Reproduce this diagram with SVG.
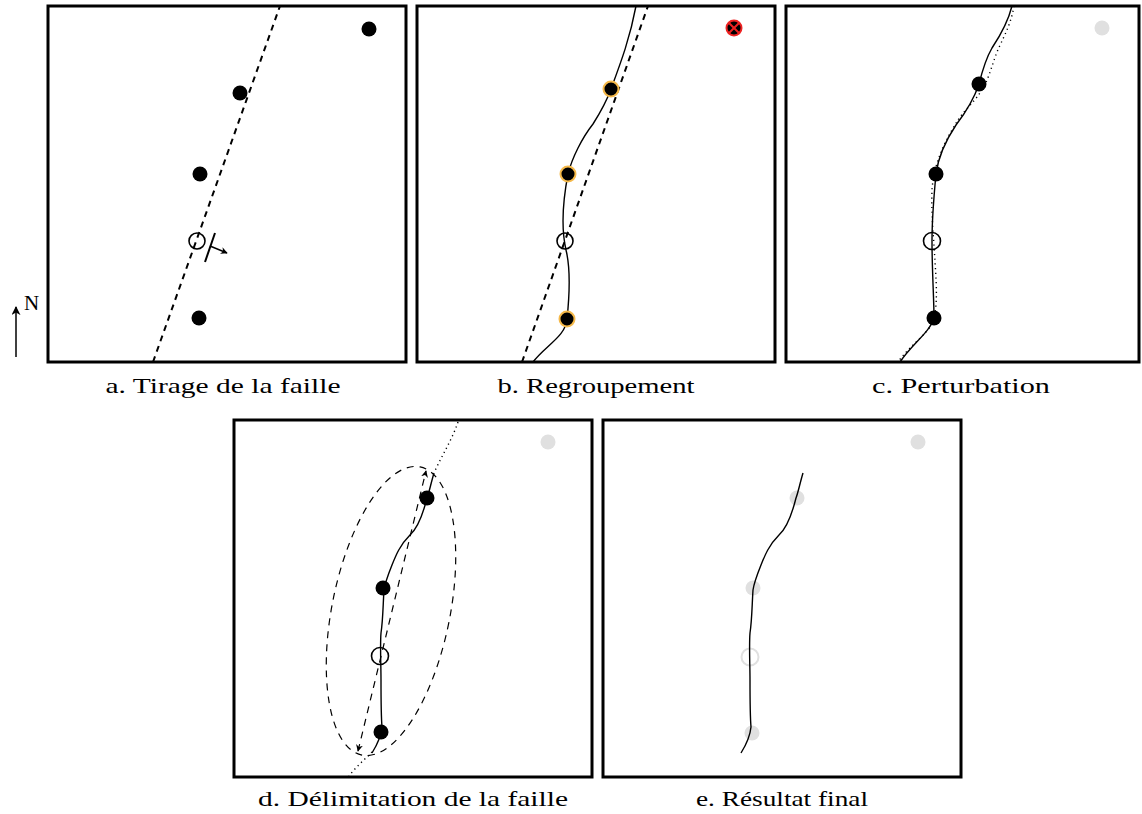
<svg xmlns="http://www.w3.org/2000/svg" width="1142" height="814" viewBox="0 0 1142 814">
<style>
.frame{fill:none;stroke:#000;stroke-width:3}
.dot{fill:#000}
.dash{fill:none;stroke:#000;stroke-width:2;stroke-dasharray:6,5}
.fault{fill:none;stroke:#000;stroke-width:1.4}
.dotted{fill:none;stroke:#000;stroke-width:1.4;stroke-dasharray:1.2,3.5}
.ell{fill:none;stroke:#000;stroke-width:1.2;stroke-dasharray:7,6}
.orange{fill:#000;stroke:#f5b94a;stroke-width:2}
.lbl{font-family:"Liberation Serif","DejaVu Serif",serif;font-size:22px;fill:#000;text-anchor:middle}
</style>
<defs>
<marker id="ah" viewBox="0 0 10 10" refX="9" refY="5" markerWidth="7" markerHeight="7" orient="auto-start-reverse" markerUnits="userSpaceOnUse">
<path d="M0,0 L10,5 L0,10 L3,5 Z" fill="#000"/>
</marker>
<marker id="ah2" viewBox="0 0 10 10" refX="9" refY="5" markerWidth="9" markerHeight="9" orient="auto-start-reverse" markerUnits="userSpaceOnUse">
<path d="M0,0 L10,5 L0,10 L3,5 Z" fill="#000"/>
</marker>
</defs>

<g id="north">
<line x1="16" y1="357" x2="16" y2="307" stroke="#000" stroke-width="1.5" marker-end="url(#ah2)"/>
<text x="24" y="310" font-family="Liberation Serif, serif" font-size="21">N</text>
</g>

<g id="panel-a">
<rect class="frame" x="48" y="6" width="358" height="356"/>
<line class="dash" x1="153" y1="362" x2="280" y2="6"/>
<circle class="dot" cx="369" cy="29" r="7.5"/>
<circle class="dot" cx="240" cy="93" r="7.5"/>
<circle class="dot" cx="200" cy="174" r="7.5"/>
<circle cx="197" cy="241" r="8" fill="none" stroke="#000" stroke-width="1.6"/>
<circle class="dot" cx="199" cy="318" r="7.5"/>
<line x1="215" y1="233" x2="205" y2="262" stroke="#000" stroke-width="2"/>
<line x1="210" y1="246" x2="227" y2="253" stroke="#000" stroke-width="1.4" marker-end="url(#ah)"/>
<text class="lbl" x="223" y="393" textLength="235" lengthAdjust="spacingAndGlyphs">a. Tirage de la faille</text>
</g>

<g id="panel-b">
<rect class="frame" x="417" y="6" width="358" height="356"/>
<line class="dash" x1="522" y1="362" x2="648" y2="6"/>
<path class="fault" d="M533,362 C545,346 566,336 567,319 C569,300 571,270 566,250 C561,228 563,200 568,174 C572,158 582,138 593,124 C600,113 607,100 611,89 C621,62 630,38 636,6"/>
<circle cx="734" cy="28" r="7.5" fill="#000" stroke="#ee2222" stroke-width="2"/>
<line x1="729" y1="23" x2="739" y2="33" stroke="#ee2222" stroke-width="2"/>
<line x1="739" y1="23" x2="729" y2="33" stroke="#ee2222" stroke-width="2"/>
<circle class="orange" cx="611" cy="89" r="7.5"/>
<circle class="orange" cx="568" cy="174" r="7.5"/>
<circle cx="565" cy="241" r="8" fill="none" stroke="#000" stroke-width="1.6"/>
<circle class="orange" cx="567" cy="319" r="7.5"/>
<text class="lbl" x="596" y="393" textLength="197" lengthAdjust="spacingAndGlyphs">b. Regroupement</text>
</g>

<g id="panel-c">
<rect class="frame" x="786" y="6" width="353" height="356"/>
<path class="dotted" d="M1014,6 C1011,25 1002,40 997,52 C992,65 989,78 983,88 C975,102 966,108 958,120 C948,136 934,160 932,190 C931,215 934,240 935,262 C937,290 938,315 930,327 C920,340 908,348 898,362"/>
<path class="fault" d="M1012,6 C1008,22 1000,36 992,48 C985,60 982,72 979,84 C975,96 966,112 956,125 C946,140 938,158 936,174 C934,195 932,220 932,241 C932,270 934,300 934,318 C930,332 912,344 900,362"/>
<circle cx="1102" cy="28" r="7.5" fill="#e0e0e0"/>
<circle class="dot" cx="979" cy="84" r="7.5"/>
<circle class="dot" cx="936" cy="174" r="7.5"/>
<circle cx="932" cy="241" r="8.5" fill="none" stroke="#000" stroke-width="1.6"/>
<circle class="dot" cx="934" cy="318" r="7.5"/>
<text class="lbl" x="961" y="393" textLength="178" lengthAdjust="spacingAndGlyphs">c. Perturbation</text>
</g>

<g id="panel-d">
<rect class="frame" x="234" y="420" width="358" height="357"/>
<ellipse class="ell" cx="391" cy="611" rx="59" ry="147" transform="rotate(11.4 391 611)"/>
<line x1="358" y1="751" x2="426" y2="471" stroke="#000" stroke-width="1.2" stroke-dasharray="7,6" marker-start="url(#ah)" marker-end="url(#ah)"/>
<path class="dotted" d="M458,422 C452,440 442,455 434,473"/>
<path class="dotted" d="M372,752 C364,760 355,768 349,776"/>
<path class="fault" d="M434,473 C431,483 429,493 427,498 C424,510 419,527 410,535 C400,545 396,555 392,565 C388,575 385,583 384,590 C383,605 383,620 381,633 C380,645 381,665 381,680 C381,700 381,715 382,727 C381,737 377,745 372,753"/>
<circle cx="548" cy="442" r="7.5" fill="#e0e0e0"/>
<circle class="dot" cx="427" cy="498" r="7.5"/>
<circle class="dot" cx="383" cy="588" r="7.5"/>
<circle cx="380" cy="656" r="8.5" fill="none" stroke="#000" stroke-width="1.6"/>
<circle class="dot" cx="381" cy="732" r="7.5"/>
<text class="lbl" x="413" y="806" textLength="310" lengthAdjust="spacingAndGlyphs">d. Délimitation de la faille</text>
</g>

<g id="panel-e">
<rect class="frame" x="603" y="420" width="358" height="357"/>
<circle cx="918" cy="442" r="7.5" fill="#e0e0e0"/>
<circle cx="797" cy="498" r="7.5" fill="#e0e0e0"/>
<circle cx="753" cy="588" r="7.5" fill="#e0e0e0"/>
<circle cx="750" cy="657" r="8.5" fill="none" stroke="#e0e0e0" stroke-width="2"/>
<circle cx="752" cy="733" r="7.5" fill="#e0e0e0"/>
<path class="fault" d="M803,473 C800,483 798,493 796,498 C793,510 788,527 779,535 C769,545 765,555 761,565 C757,575 754,583 753,590 C752,605 752,620 750,633 C749,645 750,665 750,680 C750,700 750,715 751,727 C750,737 746,745 741,753"/>
<text class="lbl" x="782" y="806" textLength="172" lengthAdjust="spacingAndGlyphs">e. Résultat final</text>
</g>
</svg>
